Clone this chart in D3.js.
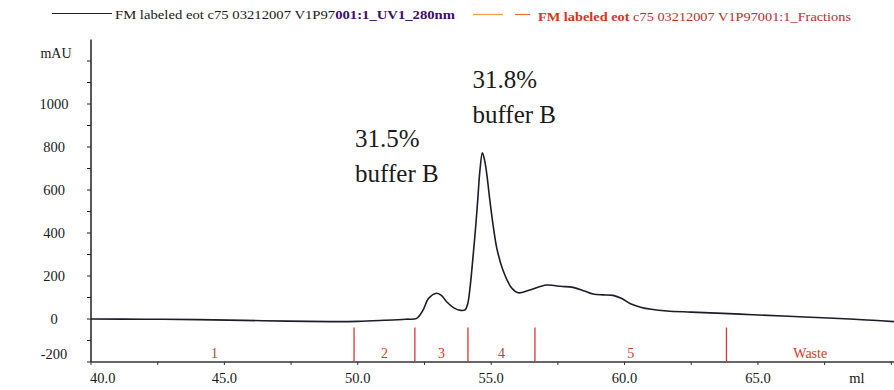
<!DOCTYPE html>
<html>
<head>
<meta charset="utf-8">
<script src="https://cdn.jsdelivr.net/npm/d3@7"></script>
<style>
  html, body { margin: 0; padding: 0; background: #fff; }
</style>
</head>
<body>
<svg id="chart" width="894" height="390" font-family="'Liberation Serif', 'DejaVu Serif', serif"></svg>
<script>
// UV 280 nm trace: elution volume (ml) and absorbance (mAU)
const volumeMl = [40.0, 42.0, 44.0, 46.45, 48.96, 50.0, 51.0, 51.8, 52.21, 52.44, 52.65, 52.96, 53.15, 53.33, 53.6, 53.85,
  54.02, 54.12, 54.22, 54.32, 54.42, 54.5, 54.58, 54.67, 54.75, 54.83, 54.95, 55.08, 55.21, 55.44, 55.77, 56.02,
  56.45, 57.08, 57.6, 58.07, 58.5, 58.82, 59.2, 59.57, 59.9, 60.2, 60.6, 61.0, 61.59, 62.5, 63.69, 64.8, 65.94, 67.2, 68.45, 69.3, 70.1];
const absorbanceMau = [0, -1, -3, -8, -12, -11, -6, -1, 3, 40, 95, 120, 108, 80, 52, 40,
  42, 70, 160, 290, 430, 560, 693, 773, 740, 680, 553, 430, 330, 228, 144, 122,
  135, 158, 152, 147, 130, 116, 112, 110, 95, 72, 55, 45, 37, 32, 26, 20, 14, 7, 0, -6, -12];

// Fraction collector: start volume of each fraction and its name
const fractionStartMl = [39.4, 49.86, 52.14, 54.13, 56.64, 63.82];
const fractionNames = ["1", "2", "3", "4", "5", "Waste"];
const fractionEndMl = 70.1;

// Axis ticks
const yMajorTicks = [-200, 0, 200, 400, 600, 800, 1000];
const yMinorTicks = d3.range(-200, 1201, 100);
const xMajorTicks = [40, 45, 50, 55, 60, 65];
const xMinorTicks = d3.range(40, 70.01, 2.5);

// Peak annotations
const peakNotes = [
  ["31.5%", "buffer B"],
  ["31.8%", "buffer B"]
];

const legendUV = [["FM labeled eot c75 03212007 V1P97", "#1a1a1a", "normal"], ["001:1_UV1_280nm", "#3b0f6b", "bold"]];
const legendFrac = [["FM labeled eot ", "#e0321a", "bold"], ["c75 03212007 V1P97001:1_Fractions", "#b8302c", "normal"]];

const svg = d3.select("#chart");
const x = d3.scaleLinear().domain([40, 70.1]).range([91, 894]);
const y = d3.scaleLinear().domain([-200, 1300]).range([362, 39.5]);

const ink = "#1c1c2a";
const red = "#d9362c";

// Legend
svg.append("line").attr("x1", 52).attr("x2", 112).attr("y1", 13.5).attr("y2", 13.5)
  .attr("stroke", "#222").attr("stroke-width", 1.2);
const t1 = svg.append("text").attr("x", 115).attr("y", 18.5).attr("font-size", 13.5)
  .attr("textLength", 340).attr("lengthAdjust", "spacingAndGlyphs");
legendUV.forEach(([s, c, w]) => t1.append("tspan").text(s).attr("fill", c).attr("font-weight", w));

svg.append("line").attr("x1", 473).attr("x2", 503).attr("y1", 14.5).attr("y2", 14.5)
  .attr("stroke", "#f0a050").attr("stroke-width", 1.2);
svg.append("line").attr("x1", 515).attr("x2", 530).attr("y1", 14.5).attr("y2", 14.5)
  .attr("stroke", "#e8703a").attr("stroke-width", 1.2);
const t2 = svg.append("text").attr("x", 538).attr("y", 20.5).attr("font-size", 13.5)
  .attr("textLength", 313).attr("lengthAdjust", "spacingAndGlyphs");
legendFrac.forEach(([s, c, w]) => t2.append("tspan").text(s).attr("fill", c).attr("font-weight", w));

// Y axis
svg.append("line").attr("x1", x(40)).attr("x2", x(40)).attr("y1", y(1300)).attr("y2", y(-200))
  .attr("stroke", "#222").attr("stroke-width", 1.5);
svg.selectAll(".ytick").data(yMinorTicks).join("line")
  .attr("x1", x(40) - 4).attr("x2", x(40)).attr("y1", d => y(d)).attr("y2", d => y(d))
  .attr("stroke", "#222").attr("stroke-width", 1);
svg.selectAll(".ylab").data(yMajorTicks).join("text")
  .attr("x", 54).attr("y", d => d === -200 ? y(d) - 8 : y(d))
  .attr("dy", "0.35em").attr("text-anchor", "middle")
  .attr("font-size", 14.5).attr("fill", "#1a1a1a").text(d => d);
svg.append("text").attr("x", 56).attr("y", 58).attr("text-anchor", "middle")
  .attr("font-size", 14).attr("fill", "#1a1a1a").text("mAU");

// X axis
svg.append("line").attr("x1", x(40)).attr("x2", 894).attr("y1", y(-200)).attr("y2", y(-200))
  .attr("stroke", "#333").attr("stroke-width", 1.3);
svg.selectAll(".xtick").data(xMinorTicks).join("line")
  .attr("x1", d => x(d)).attr("x2", d => x(d)).attr("y1", y(-200)).attr("y2", y(-200) + 3)
  .attr("stroke", "#333").attr("stroke-width", 1);
svg.selectAll(".xlab").data(xMajorTicks).join("text")
  .attr("x", d => d === 40 ? x(d) - 1 : x(d)).attr("y", 383)
  .attr("text-anchor", d => d === 40 ? "start" : "middle")
  .attr("font-size", 14.5).attr("fill", "#1a1a1a").text(d => d.toFixed(1));
svg.append("text").attr("x", 857).attr("y", 383).attr("text-anchor", "middle")
  .attr("font-size", 14.5).attr("fill", "#1a1a1a").text("ml");

// Fraction marks and names
const fractions = fractionStartMl.map((s, i) => ({
  start: s, end: i < fractionStartMl.length - 1 ? fractionStartMl[i + 1] : fractionEndMl, name: fractionNames[i]
}));
svg.selectAll(".fracline").data(fractions.filter(f => f.start > 40)).join("line")
  .attr("x1", f => x(f.start)).attr("x2", f => x(f.start))
  .attr("y1", y(-40)).attr("y2", y(-200))
  .attr("stroke", red).attr("stroke-width", 1.3);
svg.selectAll(".fraclab").data(fractions).join("text")
  .attr("x", f => x((f.start + f.end) / 2)).attr("y", 357.5)
  .attr("text-anchor", "middle").attr("font-size", 14).attr("fill", red)
  .text(f => f.name);

// UV trace
const trace = volumeMl.map((v, i) => [v, absorbanceMau[i]]);
svg.append("path").datum(trace)
  .attr("fill", "none").attr("stroke", ink).attr("stroke-width", 1.6)
  .attr("stroke-linejoin", "round")
  .attr("d", d3.line().x(d => x(d[0])).y(d => y(d[1])).curve(d3.curveCatmullRom.alpha(0.5)));

// Peak annotations
const notePos = [[x(49.9), 147], [x(54.3), 88]];
peakNotes.forEach((lines, i) => {
  const t = svg.append("text").attr("x", notePos[i][0]).attr("y", notePos[i][1])
    .attr("font-size", 25).attr("fill", "#1a1a1a");
  lines.forEach((l, j) => t.append("tspan").attr("x", notePos[i][0]).attr("dy", j === 0 ? 0 : 35).text(l));
});
</script>
</body>
</html>
